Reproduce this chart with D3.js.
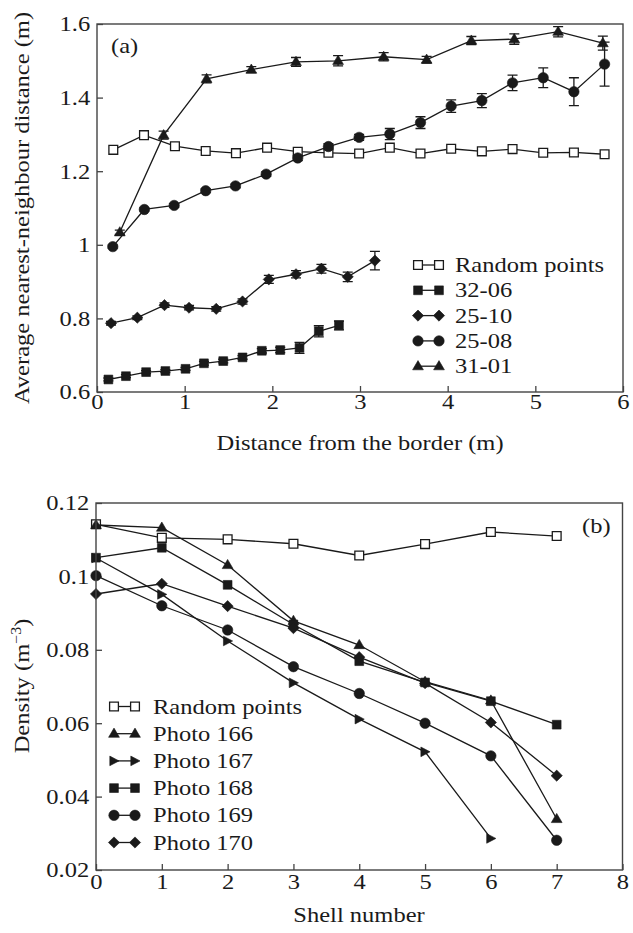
<!DOCTYPE html>
<html>
<head>
<meta charset="utf-8">
<script src="https://cdn.jsdelivr.net/npm/d3@7"></script>
<style>
  body { margin: 0; background: #fff; }
  svg { display: block; }
  text { font-family: "Liberation Serif", "DejaVu Serif", serif; font-size: 21.5px; fill: #1a1a1a; }
</style>
</head>
<body>
<svg id="chart" width="633" height="933"></svg>
<script>
// ---------- Panel (a): nearest-neighbour distance vs distance from border ----------
const randX  = [0.186, 0.536, 0.889, 1.24, 1.585, 1.94, 2.29, 2.64, 2.99, 3.34, 3.69, 4.04, 4.39, 4.74, 5.09, 5.44, 5.79];
const randY  = [1.258, 1.298, 1.268, 1.255, 1.249, 1.264, 1.253, 1.250, 1.248, 1.264, 1.248, 1.261, 1.254, 1.260, 1.250, 1.251, 1.246];

const s3206X = [0.13, 0.33, 0.56, 0.78, 1.01, 1.22, 1.44, 1.66, 1.88, 2.09, 2.31, 2.53, 2.76];
const s3206Y = [0.634, 0.643, 0.654, 0.657, 0.663, 0.678, 0.684, 0.694, 0.712, 0.714, 0.720, 0.765, 0.781];
const s3206E = [0.004, 0.004, 0.004, 0.004, 0.004, 0.005, 0.005, 0.005, 0.006, 0.007, 0.015, 0.015, 0.012];

const s2510X = [0.16, 0.46, 0.77, 1.05, 1.36, 1.66, 1.96, 2.27, 2.56, 2.86, 3.17];
const s2510Y = [0.787, 0.802, 0.836, 0.829, 0.826, 0.846, 0.906, 0.920, 0.935, 0.913, 0.957];
const s2510E = [0.005, 0.005, 0.006, 0.006, 0.006, 0.007, 0.011, 0.010, 0.012, 0.013, 0.025];

const s2508X = [0.18, 0.54, 0.88, 1.24, 1.58, 1.93, 2.29, 2.64, 2.99, 3.34, 3.69, 4.04, 4.39, 4.74, 5.09, 5.44, 5.79];
const s2508Y = [0.995, 1.096, 1.107, 1.147, 1.160, 1.192, 1.236, 1.267, 1.292, 1.301, 1.332, 1.377, 1.392, 1.440, 1.454, 1.416, 1.491];
const s2508E = [0.004, 0.004, 0.005, 0.005, 0.005, 0.006, 0.007, 0.008, 0.008, 0.015, 0.016, 0.017, 0.019, 0.021, 0.027, 0.038, 0.060];

const s3101X = [0.26, 0.76, 1.25, 1.76, 2.27, 2.75, 3.27, 3.76, 4.27, 4.76, 5.26, 5.77];
const s3101Y = [1.034, 1.298, 1.451, 1.476, 1.497, 1.500, 1.511, 1.503, 1.555, 1.559, 1.579, 1.548];
const s3101E = [0.006, 0.011, 0.011, 0.008, 0.012, 0.014, 0.011, 0.009, 0.011, 0.014, 0.014, 0.019];

const aTicksX = [0, 1, 2, 3, 4, 5, 6];
const aTicksY = [0.6, 0.8, 1, 1.2, 1.4, 1.6];

// ---------- Panel (b): density by shell ----------
const shells  = [0, 1, 2, 3, 4, 5, 6, 7];
const randB   = [0.1142, 0.1105, 0.1101, 0.1089, 0.1057, 0.1088, 0.1121, 0.1110];
const photo166 = [0.1140, 0.1133, 0.1031, 0.0879, 0.0813, 0.0713, 0.0662, 0.0339];
const photo167 = [0.1050, 0.0951, 0.0824, 0.0710, 0.0611, 0.0522, 0.0286];
const photo168 = [0.1051, 0.1078, 0.0977, 0.0869, 0.0769, 0.0711, 0.0660, 0.0596];
const photo169 = [0.1002, 0.0920, 0.0854, 0.0754, 0.0681, 0.0600, 0.0511, 0.0281];
const photo170 = [0.0952, 0.0980, 0.0919, 0.0859, 0.0780, 0.0709, 0.0602, 0.0457];

const bTicksX = [0, 1, 2, 3, 4, 5, 6, 7, 8];
const bTicksY = [0.02, 0.04, 0.06, 0.08, 0.1, 0.12];

// ---------- drawing helpers ----------
const SX = 1.14;              // horizontal widening of the serif face
const INK = "#1a1a1a";
const AXIS = "#444";
const svg = d3.select("#chart");

function shapePath(shape) {
  switch (shape) {
    case "square":
    case "squareOpen":    return "M-4.4,-4.4H4.4V4.4H-4.4Z";
    case "circle":        return d3.symbol(d3.symbolCircle, Math.PI * 5.2 * 5.2)();
    case "triangle":      return "M0,-5.6L5.4,3.6L-5.4,3.6Z";
    case "triangleRight": return "M-4.2,-4.8L5,0L-4.2,4.8Z";
    case "diamond":       return "M0,-5.6L5.6,0L0,5.6L-5.6,0Z";
  }
}

function marker(g, shape, x, y) {
  const open = shape === "squareOpen";
  g.append("path")
    .attr("d", shapePath(shape))
    .attr("transform", `translate(${x},${y})`)
    .attr("fill", open ? "#fff" : INK)
    .attr("stroke", INK)
    .attr("stroke-width", open ? 1.3 : 0.6);
}

function label(g, x, y, str, anchor) {
  return g.append("text")
    .attr("transform", `translate(${x},${y}) scale(${SX},1)`)
    .attr("text-anchor", anchor || "start")
    .text(str);
}

function frame(g, x, y) {
  const [x0, x1] = x.range(), [y0, y1] = y.range();
  g.append("rect")
    .attr("x", x0).attr("y", y1)
    .attr("width", x1 - x0).attr("height", y0 - y1)
    .attr("fill", "none").attr("stroke", AXIS).attr("stroke-width", 1.4);
}

function axes(g, x, y, ticksX, ticksY, padX) {
  const fmt = d3.format("~g");
  const gx = g.append("g")
    .attr("transform", `translate(0,${y.range()[0]})`)
    .call(d3.axisBottom(x).tickValues(ticksX).tickFormat(fmt)
      .tickSizeInner(-6).tickSizeOuter(0).tickPadding(padX));
  const gy = g.append("g")
    .attr("transform", `translate(${x.range()[0]},0)`)
    .call(d3.axisLeft(y).tickValues(ticksY).tickFormat(fmt)
      .tickSizeInner(-6).tickSizeOuter(0).tickPadding(6));
  [gx, gy].forEach(a => {
    a.select(".domain").remove();
    a.attr("color", AXIS).attr("font-size", null).attr("font-family", null);
    a.selectAll(".tick line").attr("stroke-width", 1.3);
    a.selectAll(".tick text").attr("transform", `scale(${SX},1)`).style("fill", INK);
  });
}

function series(g, x, y, s) {
  const pts = s.x.map((xv, i) => ({ x: xv, y: s.y[i], e: s.err ? s.err[i] : 0 }));
  g.append("path")
    .datum(pts)
    .attr("fill", "none").attr("stroke", INK).attr("stroke-width", 1.3)
    .attr("d", d3.line().x(d => x(d.x)).y(d => y(d.y)));
  if (s.err) {
    pts.forEach(d => {
      const cx = x(d.x), top = y(d.y + d.e), bot = y(d.y - d.e);
      g.append("path")
        .attr("d", `M${cx},${top}V${bot}M${cx - 5},${top}H${cx + 5}M${cx - 5},${bot}H${cx + 5}`)
        .attr("fill", "none").attr("stroke", INK).attr("stroke-width", 1.3);
    });
  }
  pts.forEach(d => marker(g, s.shape, x(d.x), y(d.y)));
}

function legend(g, list, x0, x1, xt, y0, dy) {
  list.forEach((s, i) => {
    const yy = y0 + i * dy;
    g.append("line").attr("x1", x0).attr("x2", x1).attr("y1", yy).attr("y2", yy)
      .attr("stroke", INK).attr("stroke-width", 1.3);
    marker(g, s.shape, x0, yy);
    marker(g, s.shape, x1, yy);
    label(g, xt, yy + 7, s.name);
  });
}

// ---------- panel (a) ----------
const xa = d3.scaleLinear().domain([0, 6]).range([97, 623]);
const ya = d3.scaleLinear().domain([0.6, 1.6]).range([392, 24]);
const seriesA = [
  { name: "Random points", x: randX,  y: randY,  err: null,   shape: "squareOpen" },
  { name: "32-06",         x: s3206X, y: s3206Y, err: s3206E, shape: "square" },
  { name: "25-10",         x: s2510X, y: s2510Y, err: s2510E, shape: "diamond" },
  { name: "25-08",         x: s2508X, y: s2508Y, err: s2508E, shape: "circle" },
  { name: "31-01",         x: s3101X, y: s3101Y, err: s3101E, shape: "triangle" }
];
const ga = svg.append("g");
axes(ga, xa, ya, aTicksX, aTicksY, 2);
seriesA.forEach(s => series(ga, xa, ya, s));
frame(ga, xa, ya);
legend(ga, seriesA, 418, 439, 455, 265, 25.3);
label(ga, 111, 53, "(a)");
label(ga, 360, 450, "Distance from the border (m)", "middle");
ga.append("text")
  .attr("transform", `translate(29,208) rotate(-90) scale(${SX},1)`)
  .attr("text-anchor", "middle")
  .text("Average nearest-neighbour distance (m)");

// ---------- panel (b) ----------
const xb = d3.scaleLinear().domain([0, 8]).range([96, 622.5]);
const yb = d3.scaleLinear().domain([0.02, 0.12]).range([870, 503]);
const seriesB = [
  { name: "Random points", x: shells,                     y: randB,    shape: "squareOpen" },
  { name: "Photo 166",     x: shells,                     y: photo166, shape: "triangle" },
  { name: "Photo 167",     x: shells.slice(0, photo167.length), y: photo167, shape: "triangleRight" },
  { name: "Photo 168",     x: shells,                     y: photo168, shape: "square" },
  { name: "Photo 169",     x: shells,                     y: photo169, shape: "circle" },
  { name: "Photo 170",     x: shells,                     y: photo170, shape: "diamond" }
];
const gb = svg.append("g");
axes(gb, xb, yb, bTicksX, bTicksY, 4);
seriesB.forEach(s => series(gb, xb, yb, s));
frame(gb, xb, yb);
legend(gb, seriesB, 114, 135, 153, 706.5, 27.2);
label(gb, 582, 533, "(b)");
label(gb, 359, 922, "Shell number", "middle");
const yt = gb.append("text")
  .attr("transform", `translate(29,686) rotate(-90) scale(${SX},1)`)
  .attr("text-anchor", "middle");
yt.append("tspan").text("Density (m");
yt.append("tspan").attr("dy", -8).style("font-size", "14px").text("\u22123");
yt.append("tspan").attr("dy", 8).text(")");
</script>
</body>
</html>
